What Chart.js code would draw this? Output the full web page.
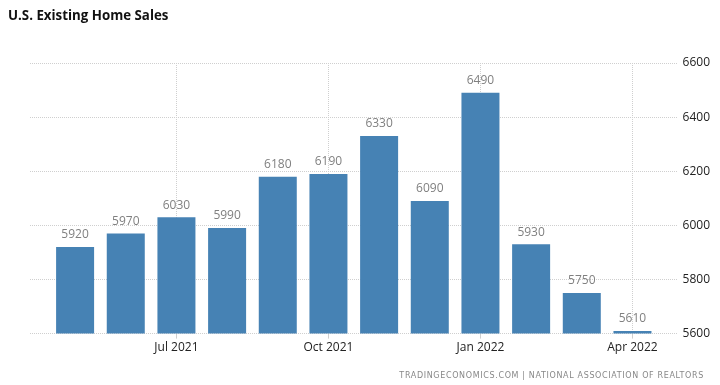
<!DOCTYPE html>
<html>
<head>
<meta charset="utf-8">
<script src="https://cdn.jsdelivr.net/npm/chart.js@4/dist/chart.umd.min.js"></script>
<style>
  html, body { margin: 0; padding: 0; background: #fff; }
  #wrap { position: relative; width: 720px; height: 385px; }
  #title { position: absolute; left: 8px; top: 6px; font: bold 13.3px "Open Sans", sans-serif; color: #111; }
  #source { position: absolute; right: 16px; top: 371px; font: 8px "DejaVu Sans", sans-serif; color: #888; letter-spacing: 0.65px; }
  canvas { position: absolute; left: 0; top: 0; }
</style>
</head>
<body>
<div id="wrap">
  <canvas id="chart" width="720" height="385"></canvas>
  <div id="title">U.S. Existing Home Sales</div>
  <div id="source">TRADINGECONOMICS.COM | NATIONAL ASSOCIATION OF REALTORS</div>
</div>
<script>
const months = ['May 2021', 'Jun 2021', 'Jul 2021', 'Aug 2021', 'Sep 2021', 'Oct 2021',
                'Nov 2021', 'Dec 2021', 'Jan 2022', 'Feb 2022', 'Mar 2022', 'Apr 2022'];
const sales = [5920, 5970, 6030, 5990, 6180, 6190, 6330, 6090, 6490, 5930, 5750, 5610];
const labeledMonths = ['Jul 2021', 'Oct 2021', 'Jan 2022', 'Apr 2022'];
const yTicks = [5600, 5800, 6000, 6200, 6400, 6600];

// value labels above each bar
const barLabels = {
    id: 'barLabels',
    afterDatasetsDraw(chart) {
        const ctx = chart.ctx;
        const meta = chart.getDatasetMeta(0);
        ctx.save();
        ctx.font = '12px "Open Sans", sans-serif';
        ctx.fillStyle = '#808080';
        ctx.textAlign = 'center';
        ctx.textBaseline = 'bottom';
        meta.data.forEach((bar, i) => {
            ctx.fillText(sales[i], bar.x, bar.y - 6);
        });
        ctx.restore();
    }
};

new Chart(document.getElementById('chart'), {
    type: 'bar',
    data: {
        datasets: [{
            data: sales.map((v, i) => ({ x: i, y: v })),
            backgroundColor: '#4682b4',
            borderWidth: 0,
            barPercentage: 0.75,
            categoryPercentage: 1
        }]
    },
    options: {
        responsive: false,
        animation: false,
        layout: { padding: { left: 30, right: 5, top: 63, bottom: 28 } },
        plugins: { legend: { display: false }, tooltip: { enabled: false } },
        scales: {
            x: {
                type: 'linear',
                offset: false,
                min: -0.89,
                max: 11.89,
                afterBuildTicks: axis => {
                    axis.ticks = labeledMonths.map(m => ({ value: months.indexOf(m) }));
                },
                ticks: {
                    callback: v => months[v],
                    font: { family: '"Open Sans", sans-serif', size: 12 },
                    color: '#222',
                    padding: 2,
                    maxRotation: 0,
                    autoSkip: false
                },
                grid: {
                    offset: false,
                    color: '#cfcfcf',
                    tickLength: 5,
                    tickColor: '#cfcfcf'
                },
                border: { display: false, dash: [1, 1] }
            },
            y: {
                position: 'right',
                min: 5600,
                max: 6600,
                afterBuildTicks: axis => {
                    axis.ticks = yTicks.map(v => ({ value: v }));
                },
                ticks: {
                    callback: v => String(v),
                    font: { family: '"Open Sans", sans-serif', size: 12 },
                    color: '#222',
                    padding: 5
                },
                grid: { color: '#cfcfcf', drawTicks: false },
                border: { display: false, dash: [1, 1] }
            }
        }
    },
    plugins: [barLabels]
});
</script>
</body>
</html>
